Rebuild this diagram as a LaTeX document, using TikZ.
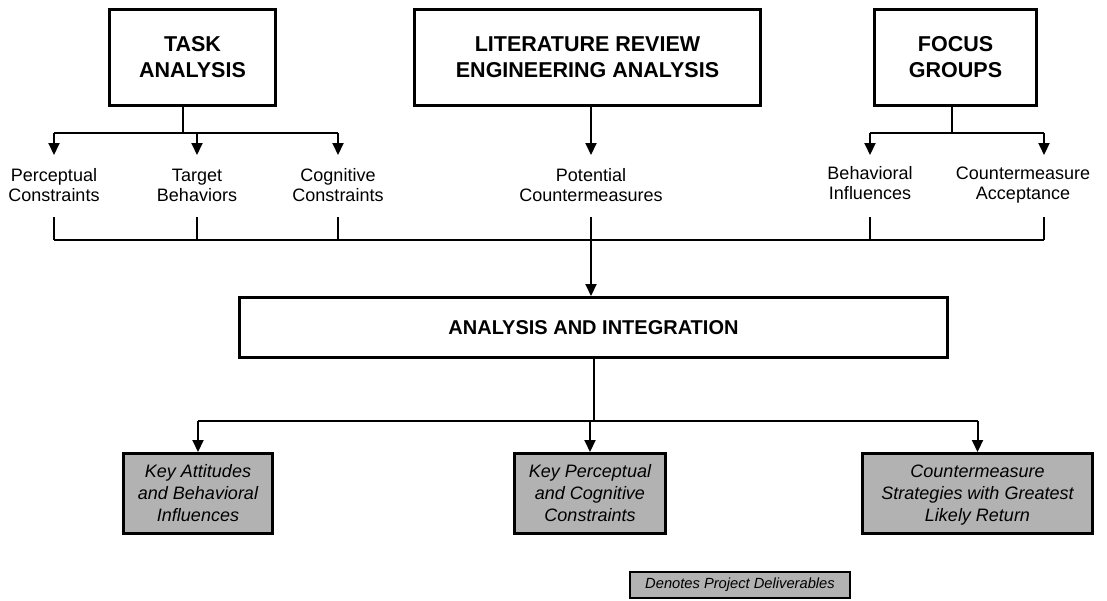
\documentclass[tikz,border=0pt]{standalone}
\usepackage{fontspec}
\setmainfont{Liberation Sans}
\usetikzlibrary{arrows.meta}

\begin{document}
\begin{tikzpicture}[x=1pt, y=-1pt,
  headbox/.style={draw, line width=3pt, inner sep=0pt, align=center, minimum height=96pt,
    font=\fontsize{21.5}{26}\selectfont\bfseries},
  txt/.style={inner sep=0pt, align=center, font=\fontsize{18}{20}\selectfont},
  outbox/.style={draw, fill=black!30, line width=3pt, inner sep=0pt, align=center,
    minimum height=80pt, font=\fontsize{18}{22}\selectfont\itshape},
  conn/.style={line width=2pt},
  arr/.style={line width=2pt, -{Triangle[length=12pt, width=11pt]}}]

  \useasboundingbox (0,0) rectangle (1107,600);

  \node[headbox, minimum width=166pt] (task) at (192.5, 57.5) {TASK\\ANALYSIS};
  \node[headbox, minimum width=346pt] (lit) at (587.5, 57.5) {LITERATURE REVIEW\\ENGINEERING ANALYSIS};
  \node[headbox, minimum width=162pt] (focus) at (955.5, 57.5) {FOCUS\\GROUPS};

  \node[txt] (percep) at (54, 185) {Perceptual\\Constraints};
  \node[txt] (target) at (197, 185) {Target\\Behaviors};
  \node[txt] (cog) at (338, 185) {Cognitive\\Constraints};
  \node[txt] (potential) at (591, 185) {Potential\\Countermeasures};
  \node[txt] (behav) at (870, 183) {Behavioral\\Influences};
  \node[txt] (accept) at (1023, 185) {Countermeasure\\Acceptance};

  \node[headbox, minimum width=708pt, minimum height=60pt,
    font=\fontsize{20}{24}\selectfont\bfseries] (integ) at (593.5, 327.5) {ANALYSIS AND INTEGRATION};

  \node[outbox, minimum width=149pt] (keyatt) at (198, 493.5) {Key Attitudes\\and Behavioral\\Influences};
  \node[outbox, minimum width=151pt] (keyperc) at (590, 493.5) {Key Perceptual\\and Cognitive\\Constraints};
  \node[outbox, minimum width=230pt, text depth=0pt] (strat) at (977.5, 493.5) {Countermeasure\\Strategies with Greatest\\Likely Return};

  \node[draw, fill=black!30, line width=2pt, inner sep=0pt, minimum width=220pt, minimum height=26pt,
    font=\fontsize{14.7}{16}\selectfont\itshape] (legend) at (740, 585) {Denotes Project Deliverables};

  \coordinate (taskbus) at (183, 133);
  \coordinate (focusbus) at (952, 133);
  \coordinate (tipline) at (0, 155);
  \coordinate (stubline) at (0, 217);
  \coordinate (midbus) at (0, 240);
  \coordinate (lowbus) at (0, 421);
  \coordinate (acc) at (1044, 0);

  \draw[conn] (task.south -| taskbus) -- (taskbus);
  \draw[conn] (taskbus -| percep) -- (taskbus -| cog);
  \foreach \n in {percep, target, cog}
    \draw[arr] (taskbus -| \n) -- (tipline -| \n);

  \draw[arr] (lit.south -| potential) -- (tipline -| potential);

  \draw[conn] (focus.south -| focusbus) -- (focusbus);
  \draw[conn] (focusbus -| behav) -- (focusbus -| acc);
  \draw[arr] (focusbus -| behav) -- (tipline -| behav);
  \draw[arr] (focusbus -| acc) -- (tipline -| acc);

  \foreach \n in {percep, target, cog, potential, behav, acc}
    \draw[conn] (stubline -| \n) -- (midbus -| \n);
  \draw[conn] (midbus -| percep) -- (midbus -| acc);
  \draw[arr] (midbus -| potential) -- (potential |- integ.north);

  \draw[conn] (integ.south) -- (lowbus -| integ);
  \draw[conn] (lowbus -| keyatt) -- (lowbus -| strat);
  \foreach \n in {keyatt, keyperc, strat}
    \draw[arr] (lowbus -| \n) -- (\n.north);

\end{tikzpicture}
\end{document}
